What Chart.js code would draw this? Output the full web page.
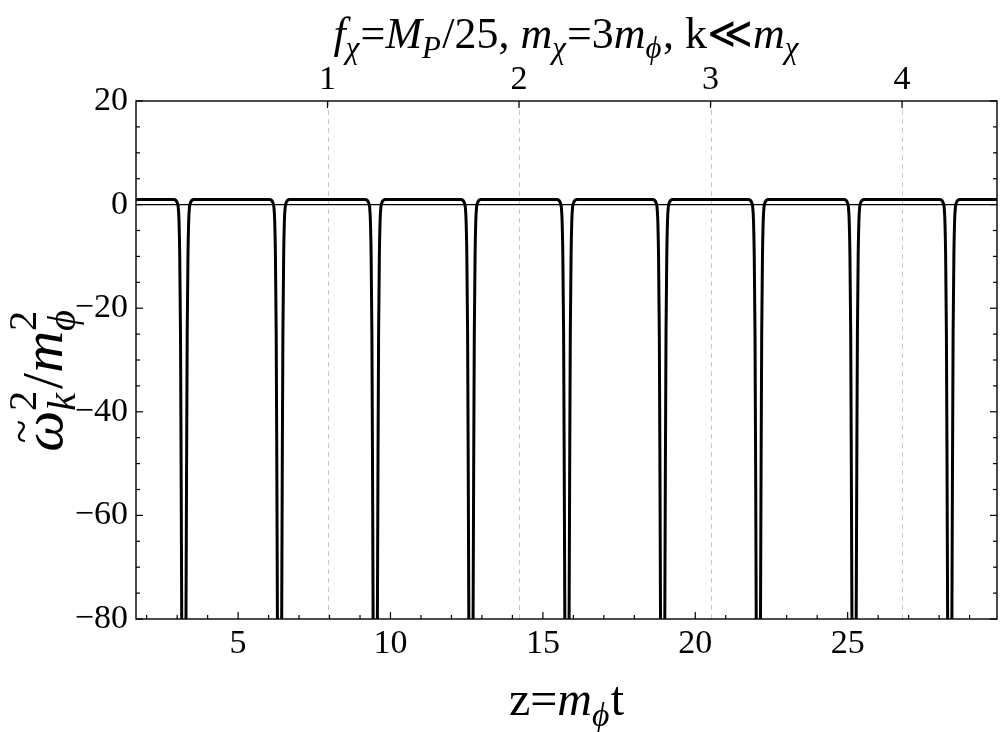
<!DOCTYPE html>
<html lang="en">
<head>
    <meta charset="UTF-8">
    <title>omega_k^2 / m_phi^2</title>
    <script src="https://cdn.jsdelivr.net/npm/chart.js"></script>
    <style>
        body { margin: 0; background: #fff; }
        canvas { display: block; }
    </style>
</head>
<body>
    <canvas id="chart" width="1000" height="732"></canvas>

    <script>
        // dip centres (z)
        const dipCenters = [3.22, 6.36, 9.50, 12.64, 15.79, 18.93, 22.07, 25.21, 28.35];
        // shape of one dip: offset from centre (z) and value
        const dipOffsets = [-0.55, -0.34, -0.27, -0.22, -0.185, -0.16, -0.135, -0.11, -0.09, -0.07, -0.05, 0,
                            0.05, 0.07, 0.09, 0.11, 0.135, 0.16, 0.185, 0.22, 0.27, 0.34, 0.55];
        const dipValues  = [1.0, 0.97, 0.85, 0.4, -0.5, -3, -10, -25, -50, -80, -110, -160,
                            -110, -80, -50, -25, -10, -3, -0.5, 0.4, 0.85, 0.97, 1.0];
        const flatLevel = 1.0;

        const zMin = 1.65, zMax = 29.9;
        const xMajor = [5, 10, 15, 20, 25];
        const xMinor = [2, 3, 4, 6, 7, 8, 9, 11, 12, 13, 14, 16, 17, 18, 19, 21, 22, 23, 24, 26, 27, 28, 29];
        const yMajor = [-80, -60, -40, -20, 0, 20];
        const yMinor = [-75, -70, -65, -55, -50, -45, -35, -30, -25, -15, -10, -5, 5, 10, 15];
        const topTicks = [1, 2, 3, 4];
        const topMax = 4.496;

        const points = [{ x: zMin, y: flatLevel }];
        dipCenters.forEach(c => {
            dipOffsets.forEach((d, i) => points.push({ x: c + d, y: dipValues[i] }));
        });
        points.push({ x: zMax, y: flatLevel });

        const FAMILY = '"Liberation Serif", "Times New Roman", serif';
        const fnt = (size, it) => (it ? 'italic ' : '') + size + 'px ' + FAMILY;

        // items: {t, it} plain run, {sup, sub, it} stacked scripts
        function richWidth(ctx, items, size) {
            let w = 0;
            items.forEach(o => {
                if (o.t !== undefined) {
                    ctx.font = fnt(size, o.it);
                    w += ctx.measureText(o.t).width;
                } else {
                    ctx.font = fnt(size * 0.7, o.it);
                    const a = o.sup ? ctx.measureText(o.sup).width : 0;
                    ctx.font = fnt(size * 0.7, o.subIt !== undefined ? o.subIt : o.it);
                    const b = o.sub ? ctx.measureText(o.sub).width : 0;
                    w += Math.max(a, b) + size * 0.03;
                }
            });
            return w;
        }

        function drawRich(ctx, items, size, cx, baseline) {
            let x = cx - richWidth(ctx, items, size) / 2;
            ctx.textAlign = 'left';
            ctx.textBaseline = 'alphabetic';
            items.forEach(o => {
                if (o.t !== undefined) {
                    ctx.font = fnt(size, o.it);
                    ctx.fillText(o.t, x, baseline);
                    const w = ctx.measureText(o.t).width;
                    if (o.tilde) {
                        ctx.font = fnt(size * 0.75, false);
                        ctx.textAlign = 'center';
                        ctx.fillText('~', x + w * 0.5, baseline - size * 0.44);
                        ctx.textAlign = 'left';
                    }
                    x += w;
                } else {
                    let a = 0, b = 0;
                    if (o.sup) {
                        ctx.font = fnt(size * 0.7, o.it);
                        ctx.fillText(o.sup, x, baseline - size * 0.45);
                        a = ctx.measureText(o.sup).width;
                    }
                    if (o.sub) {
                        ctx.font = fnt(size * 0.7, o.subIt !== undefined ? o.subIt : o.it);
                        ctx.fillText(o.sub, x, baseline + size * 0.22);
                        b = ctx.measureText(o.sub).width;
                    }
                    x += Math.max(a, b) + size * 0.03;
                }
            });
        }

        const titleItems = [
            { t: 'f', it: true }, { sub: 'χ', it: true }, { t: '=' }, { t: 'M', it: true }, { sub: 'P', it: true },
            { t: '/25, ' }, { t: 'm', it: true }, { sub: 'χ', it: true }, { t: '=3' }, { t: 'm', it: true },
            { sub: 'ϕ', it: true }, { t: ', k≪' }, { t: 'm', it: true }, { sub: 'χ', it: true }
        ];
        const xTitleItems = [{ t: 'z=' }, { t: 'm', it: true }, { sub: 'ϕ', it: true }, { t: 't' }];
        const yTitleItems = [
            { t: 'ω', it: true, tilde: true }, { sup: '2', sub: 'k', it: false, subIt: true },
            { t: '/' }, { t: 'm', it: true }, { sup: '2', sub: 'ϕ', it: false, subIt: true }
        ];

        function line(ctx, x1, y1, x2, y2) {
            ctx.beginPath();
            ctx.moveTo(x1, y1);
            ctx.lineTo(x2, y2);
            ctx.stroke();
        }

        const framePlugin = {
            id: 'frame',
            beforeDatasetsDraw(chart) {
                const { ctx, chartArea: a, scales } = chart;
                ctx.save();
                ctx.strokeStyle = '#c8c8c8';
                ctx.lineWidth = 1;
                ctx.setLineDash([5, 4]);
                topTicks.forEach(v => {
                    const px = Math.round(scales.x2.getPixelForValue(v)) + 0.5;
                    line(ctx, px, a.top, px, a.bottom);
                });
                ctx.setLineDash([]);
                ctx.strokeStyle = '#000';
                ctx.lineWidth = 1.2;
                const py = scales.y.getPixelForValue(0);
                line(ctx, a.left, py, a.right, py);
                ctx.restore();
            },
            afterDraw(chart) {
                const { ctx, chartArea: a, scales } = chart;
                ctx.save();
                ctx.strokeStyle = '#000';
                ctx.lineWidth = 1.4;
                ctx.strokeRect(a.left, a.top, a.right - a.left, a.bottom - a.top);
                ctx.lineWidth = 1.2;
                const tick = (vals, len, fn) => vals.forEach(v => fn(v, len));
                tick(xMajor, 7, (v, l) => { const p = scales.x.getPixelForValue(v); line(ctx, p, a.bottom, p, a.bottom - l); });
                tick(xMinor, 4, (v, l) => { const p = scales.x.getPixelForValue(v); line(ctx, p, a.bottom, p, a.bottom - l); });
                tick(topTicks, 7, (v, l) => { const p = scales.x2.getPixelForValue(v); line(ctx, p, a.top, p, a.top + l); });
                tick(yMajor, 7, (v, l) => {
                    const p = scales.y.getPixelForValue(v);
                    line(ctx, a.left, p, a.left + l, p);
                    line(ctx, a.right, p, a.right - l, p);
                });
                tick(yMinor, 4, (v, l) => {
                    const p = scales.y.getPixelForValue(v);
                    line(ctx, a.left, p, a.left + l, p);
                    line(ctx, a.right, p, a.right - l, p);
                });

                ctx.fillStyle = '#000';
                const cx = (a.left + a.right) / 2;
                drawRich(ctx, titleItems, 44, cx, 48);
                drawRich(ctx, xTitleItems, 48, cx, 715);
                ctx.translate(62, 380);
                ctx.rotate(-Math.PI / 2);
                drawRich(ctx, yTitleItems, 58, 0, 0);
                ctx.restore();
            }
        };

        const tickFont = { family: FAMILY, size: 34 };
        const minus = v => (v < 0 ? '\u2212' + Math.abs(v) : String(v));

        new Chart(document.getElementById('chart'), {
            type: 'line',
            data: {
                datasets: [{
                    data: points,
                    borderColor: '#000',
                    borderWidth: 3,
                    pointRadius: 0,
                    cubicInterpolationMode: 'monotone',
                    clip: 0,
                    xAxisID: 'x',
                    yAxisID: 'y'
                }]
            },
            options: {
                responsive: false,
                animation: false,
                devicePixelRatio: 1,
                layout: { padding: { left: 0, right: 3, top: 0, bottom: 0 } },
                plugins: { legend: { display: false }, tooltip: { enabled: false } },
                scales: {
                    x: {
                        type: 'linear', position: 'bottom', min: zMin, max: zMax,
                        afterBuildTicks: s => { s.ticks = xMajor.map(v => ({ value: v })); },
                        afterFit: s => { s.height = 113; },
                        ticks: { font: tickFont, color: '#000', padding: 5, maxRotation: 0, autoSkip: false },
                        grid: { display: false, drawTicks: false },
                        border: { display: false }
                    },
                    x2: {
                        type: 'linear', position: 'top', min: 0, max: topMax,
                        afterBuildTicks: s => { s.ticks = topTicks.map(v => ({ value: v })); },
                        afterFit: s => { s.height = 101; },
                        ticks: { font: tickFont, color: '#000', padding: 1, maxRotation: 0, autoSkip: false },
                        grid: { display: false, drawTicks: false },
                        border: { display: false }
                    },
                    y: {
                        type: 'linear', position: 'left', min: -80, max: 20,
                        afterBuildTicks: s => { s.ticks = yMajor.map(v => ({ value: v })); },
                        afterFit: s => { s.width = 136; },
                        ticks: { font: tickFont, color: '#000', padding: 8, callback: minus },
                        grid: { display: false, drawTicks: false },
                        border: { display: false }
                    }
                }
            },
            plugins: [framePlugin]
        });
    </script>
</body>
</html>
